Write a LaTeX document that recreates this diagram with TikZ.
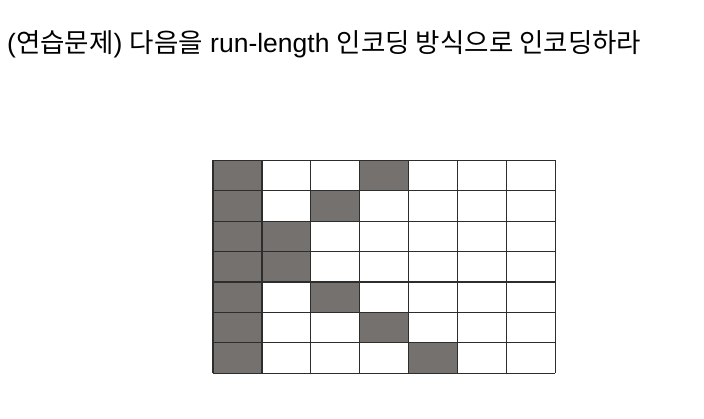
\documentclass[tikz,border=0pt]{standalone}
\usepackage{fontspec}
\setmainfont{Liberation Sans}
\newfontfamily\kr{Noto Sans CJK KR}
\definecolor{cellgray}{RGB}{117,113,111}
\definecolor{gridline}{RGB}{45,45,45}

\begin{document}
\begin{tikzpicture}[x=1pt,y=-1pt]

      \useasboundingbox (0,0) rectangle (704,419);

      % title
      \node[anchor=base west,inner sep=0pt,font=\fontsize{26.5}{30}\selectfont] (title) at (7,53)
        {({\kr 연습문제}) {\kr 다음을} run-length {\kr 인코딩 방식으로 인코딩하라}};

      \begin{scope}[shift={(213,160.5)},x=48.9pt,y=-30.4pt]

        % shaded cells (column, row)
        \begin{scope}[every path/.style={fill=cellgray}]
          \foreach \c/\r in {0/0,3/0,0/1,2/1,0/2,1/2,0/3,1/3,0/4,2/4,0/5,3/5,0/6,4/6}
            \path (\c,\r) rectangle ++(1,1);
        \end{scope}

        % grid
        \begin{scope}[every path/.style={draw=gridline,line width=1.2pt}]
          \foreach \i in {0,...,7} {
            \path (\i,0) -- (\i,7);
            \path (0,\i) -- (7,\i);
          }
        \end{scope}

      \end{scope}

    \end{tikzpicture}
\end{document}
